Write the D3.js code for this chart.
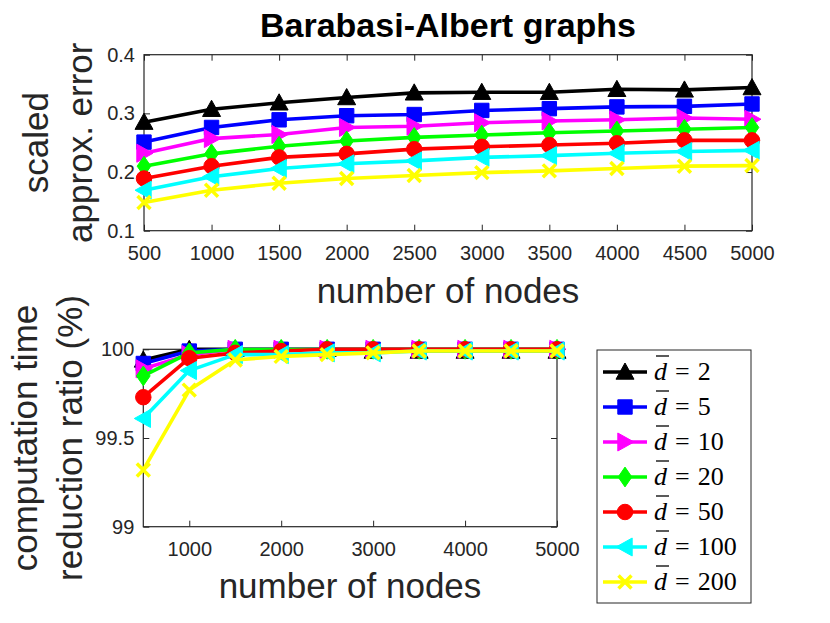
<!DOCTYPE html>
<html>
<head>
<meta charset="utf-8">
<script src="https://cdn.jsdelivr.net/npm/d3@7"></script>
<style>
  html, body { margin: 0; padding: 0; background: #fff; }
  svg text { font-family: 'Liberation Sans', Arial, Helvetica, sans-serif; }
</style>
</head>
<body>
<div id="chart"></div>
<script>
// x values shared by both panels
const nodeCounts = [500, 1000, 1500, 2000, 2500, 3000, 3500, 4000, 4500, 5000];

// legend labels (average degree)
const degreeLabels = ['2', '5', '10', '20', '50', '100', '200'];

// top panel: scaled approximation error
const errorD2   = [0.285, 0.307, 0.318, 0.327, 0.335, 0.336, 0.336, 0.341, 0.340, 0.344];
const errorD5   = [0.251, 0.276, 0.289, 0.296, 0.298, 0.305, 0.308, 0.311, 0.312, 0.316];
const errorD10  = [0.232, 0.257, 0.264, 0.276, 0.278, 0.284, 0.287, 0.289, 0.292, 0.290];
const errorD20  = [0.210, 0.231, 0.244, 0.253, 0.259, 0.263, 0.267, 0.270, 0.273, 0.276];
const errorD50  = [0.189, 0.210, 0.225, 0.231, 0.239, 0.243, 0.246, 0.249, 0.254, 0.254];
const errorD100 = [0.169, 0.192, 0.206, 0.214, 0.219, 0.225, 0.228, 0.232, 0.235, 0.237];
const errorD200 = [0.148, 0.169, 0.181, 0.189, 0.194, 0.199, 0.202, 0.206, 0.210, 0.211];

// bottom panel: computation time reduction ratio (%)
const ratioD2   = [99.94, 100.0, 100.0, 100.0, 100.0, 99.99, 99.99, 99.99, 99.99, 99.99];
const ratioD5   = [99.92, 99.99, 100.0, 100.0, 100.0, 100.0, 100.0, 100.0, 100.0, 100.0];
const ratioD10  = [99.89, 99.97, 100.0, 100.0, 100.0, 100.0, 100.0, 100.0, 100.0, 100.0];
const ratioD20  = [99.85, 99.98, 100.0, 100.0, 100.0, 100.0, 100.0, 100.0, 100.0, 100.0];
const ratioD50  = [99.73, 99.95, 99.98, 99.99, 100.0, 100.0, 100.0, 100.0, 100.0, 100.0];
const ratioD100 = [99.61, 99.88, 99.97, 99.97, 99.98, 99.98, 99.99, 99.99, 99.99, 99.99];
const ratioD200 = [99.32, 99.77, 99.94, 99.96, 99.97, 99.98, 99.99, 99.99, 99.99, 99.99];

// tick values
const topXTicks = [500, 1000, 1500, 2000, 2500, 3000, 3500, 4000, 4500, 5000];
const topYTicks = [0.1, 0.2, 0.3, 0.4];
const bottomXTicks = [1000, 2000, 3000, 4000, 5000];
const bottomYTicks = [99, 99.5, 100];

const errorSeries = [errorD2, errorD5, errorD10, errorD20, errorD50, errorD100, errorD200];
const ratioSeries = [ratioD2, ratioD5, ratioD10, ratioD20, ratioD50, ratioD100, ratioD200];

const colors = ['#000000', '#0000ff', '#ff00ff', '#00ff00', '#ff0000', '#00ffff', '#ffff00'];
const markerTypes = ['up', 'square', 'right', 'diamond', 'circle', 'left', 'cross'];

const width = 830;
const height = 623;
const axisColor = '#262626';

const svg = d3.select('#chart')
  .append('svg')
  .attr('width', width)
  .attr('height', height)
  .attr('viewBox', `0 0 ${width} ${height}`);

svg.append('rect').attr('width', width).attr('height', height).attr('fill', '#fff');

/**
 * Marker shapes drawn as d3 symbol types (size = pixel extent)
 */
function triangle(dir) {
  return {
    draw(ctx, s) {
      const h = s * 0.5;
      const pts = {
        up:    [[0, -h], [h, h * 0.8], [-h, h * 0.8]],
        right: [[h, 0], [-h * 0.8, h], [-h * 0.8, -h]],
        left:  [[-h, 0], [h * 0.8, -h], [h * 0.8, h]]
      }[dir];
      ctx.moveTo(pts[0][0], pts[0][1]);
      ctx.lineTo(pts[1][0], pts[1][1]);
      ctx.lineTo(pts[2][0], pts[2][1]);
      ctx.closePath();
    }
  };
}

const symbolTypes = {
  up: triangle('up'),
  right: triangle('right'),
  left: triangle('left'),
  square: {
    draw(ctx, s) { const h = s * 0.4; ctx.rect(-h, -h, 2 * h, 2 * h); }
  },
  circle: {
    draw(ctx, s) { const r = s * 0.43; ctx.moveTo(r, 0); ctx.arc(0, 0, r, 0, 2 * Math.PI); }
  },
  diamond: {
    draw(ctx, s) {
      const w = s * 0.38, h = s * 0.55;
      ctx.moveTo(0, -h); ctx.lineTo(w, 0); ctx.lineTo(0, h); ctx.lineTo(-w, 0); ctx.closePath();
    }
  },
  cross: {
    draw(ctx, s) {
      const h = s * 0.36;
      ctx.moveTo(-h, -h); ctx.lineTo(h, h);
      ctx.moveTo(h, -h); ctx.lineTo(-h, h);
    }
  }
};

const markerSize = 18;

function drawMarker(g, type, color, x, y) {
  const path = d3.symbol().type(symbolTypes[type]).size(markerSize)();
  const m = g.append('path')
    .attr('d', path)
    .attr('transform', `translate(${x},${y})`);
  if (type === 'cross') {
    m.attr('fill', 'none').attr('stroke', color).attr('stroke-width', 3.5);
  } else {
    m.attr('fill', color).attr('stroke', color).attr('stroke-width', 1);
  }
}

/**
 * Draw one panel: box, ticks, lines with markers
 */
function drawPanel(opts) {
  const { left, right, top, bottom, xDomain, yDomain, xTicks, yTicks, yFormat, series } = opts;
  const x = d3.scaleLinear().domain(xDomain).range([left, right]);
  const y = d3.scaleLinear().domain(yDomain).range([bottom, top]);

  const g = svg.append('g');

  // bottom axis with labels
  const ax = g.append('g')
    .attr('transform', `translate(0,${bottom})`)
    .call(d3.axisBottom(x).tickValues(xTicks).tickSizeInner(-6).tickSizeOuter(0)
      .tickPadding(15).tickFormat(d3.format('d')));
  // top mirror ticks
  const axTop = g.append('g')
    .attr('transform', `translate(0,${top})`)
    .call(d3.axisTop(x).tickValues(xTicks).tickSizeInner(-6).tickSizeOuter(0).tickFormat(''));
  // left axis with labels
  const ay = g.append('g')
    .attr('transform', `translate(${left},0)`)
    .call(d3.axisLeft(y).tickValues(yTicks).tickSizeInner(-6).tickSizeOuter(0).tickPadding(9).tickFormat(yFormat));
  // right mirror ticks
  const ayRight = g.append('g')
    .attr('transform', `translate(${right},0)`)
    .call(d3.axisRight(y).tickValues(yTicks).tickSizeInner(-6).tickSizeOuter(0).tickFormat(''));

  [ax, axTop, ay, ayRight].forEach(a => {
    a.select('.domain').remove();
    a.selectAll('line').attr('stroke', axisColor).attr('stroke-width', 1);
    a.selectAll('text')
      .attr('fill', axisColor)
      .style('font-size', '20px')
      .style('font-family', "'Liberation Sans', Arial, sans-serif");
  });

  // axes box
  g.append('rect')
    .attr('x', left).attr('y', top)
    .attr('width', right - left).attr('height', bottom - top)
    .attr('fill', 'none')
    .attr('stroke', axisColor)
    .attr('stroke-width', 1.2);

  const line = d3.line().x((d, i) => x(nodeCounts[i])).y(d => y(d));

  series.forEach((values, k) => {
    const sg = g.append('g');
    sg.append('path')
      .datum(values)
      .attr('d', line)
      .attr('fill', 'none')
      .attr('stroke', colors[k])
      .attr('stroke-width', 3.6)
      .attr('stroke-linejoin', 'round');
    values.forEach((v, i) => drawMarker(sg, markerTypes[k], colors[k], x(nodeCounts[i]), y(v)));
  });

  return { x, y };
}

drawPanel({
  left: 144, right: 752, top: 54.7, bottom: 230.7,
  xDomain: [500, 5000], yDomain: [0.1, 0.4],
  xTicks: topXTicks, yTicks: topYTicks,
  yFormat: d3.format('.1f'),
  series: errorSeries
});

drawPanel({
  left: 143.3, right: 557, top: 349.3, bottom: 526.7,
  xDomain: [500, 5000], yDomain: [99, 100],
  xTicks: bottomXTicks, yTicks: bottomYTicks,
  yFormat: d => String(d),
  series: ratioSeries
});

// title
svg.append('text')
  .attr('x', 448).attr('y', 37)
  .attr('text-anchor', 'middle')
  .style('font-size', '34px')
  .style('font-weight', 'bold')
  .attr('fill', '#000')
  .text('Barabasi-Albert graphs');

// x axis labels
const labelSize = '35px';
svg.append('text')
  .attr('x', 448).attr('y', 303)
  .attr('text-anchor', 'middle')
  .style('font-size', labelSize)
  .attr('fill', axisColor)
  .text('number of nodes');

svg.append('text')
  .attr('x', 350).attr('y', 598)
  .attr('text-anchor', 'middle')
  .style('font-size', labelSize)
  .attr('fill', axisColor)
  .text('number of nodes');

// y axis labels (two lines, rotated)
function yLabel(lines, xs, cy) {
  lines.forEach((t, i) => {
    svg.append('text')
      .attr('transform', `translate(${xs[i]},${cy}) rotate(-90)`)
      .attr('text-anchor', 'middle')
      .style('font-size', labelSize)
      .attr('fill', axisColor)
      .text(t);
  });
}
yLabel(['scaled', 'approx. error'], [48, 92], 142.7);
yLabel(['computation time', 'reduction ratio (%)'], [37, 82], 438);

// legend
const legend = svg.append('g');
legend.append('rect')
  .attr('x', 597).attr('y', 350)
  .attr('width', 154).attr('height', 253)
  .attr('fill', '#fff')
  .attr('stroke', axisColor)
  .attr('stroke-width', 1);

const legendY = d3.scalePoint().domain(degreeLabels).range([372, 582]);

degreeLabels.forEach((lab, k) => {
  const cy = legendY(lab);
  legend.append('line')
    .attr('x1', 603).attr('x2', 647)
    .attr('y1', cy).attr('y2', cy)
    .attr('stroke', colors[k])
    .attr('stroke-width', 3.6);
  drawMarker(legend, markerTypes[k], colors[k], 625, cy);

  const t = legend.append('text')
    .attr('x', 654).attr('y', cy + 8)
    .style('font-family', "'Liberation Serif', 'Times New Roman', serif")
    .style('font-size', '26px')
    .attr('fill', '#000');
  t.append('tspan').style('font-style', 'italic').text('d');
  t.append('tspan').attr('dx', 8).attr('transform', 'scale(1.3,1)').text('=');
  t.append('tspan').attr('dx', 8).text(lab);

  // bar over d
  const dw = t.node().getSubStringLength(0, 1);
  legend.append('line')
    .attr('x1', 654 + 2).attr('x2', 654 + dw + 2)
    .attr('y1', cy - 16).attr('y2', cy - 16)
    .attr('stroke', '#000')
    .attr('stroke-width', 1.3);
});
</script>
</body>
</html>
